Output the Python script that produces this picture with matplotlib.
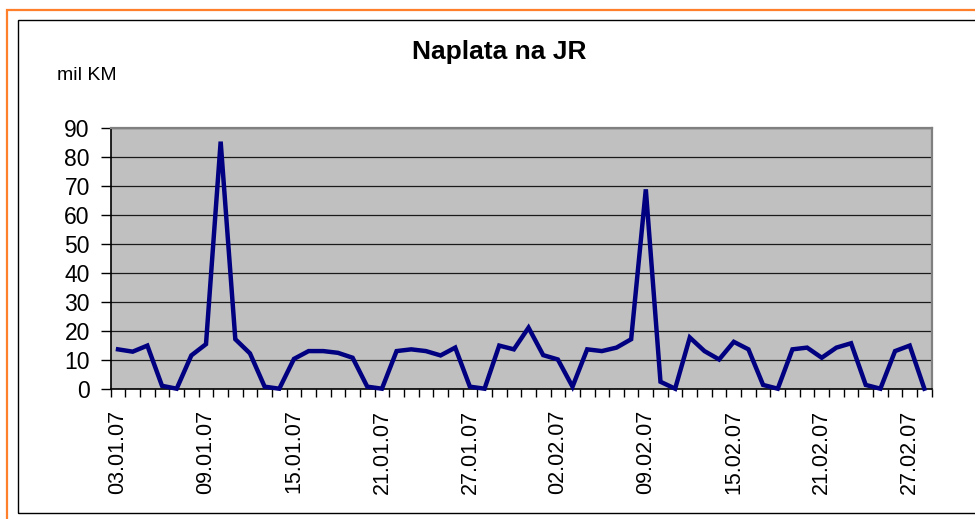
import matplotlib
matplotlib.use("Agg")
import matplotlib.pyplot as plt
from matplotlib.patches import Rectangle
from matplotlib.ticker import FixedLocator

plt.rcParams['font.family'] = ['Liberation Sans', 'DejaVu Sans']

dates = ["03.01.07", "04.01.07", "05.01.07", "06.01.07", "07.01.07", "08.01.07",
         "09.01.07", "10.01.07", "11.01.07", "12.01.07", "13.01.07", "14.01.07",
         "15.01.07", "16.01.07", "17.01.07", "18.01.07", "19.01.07", "20.01.07",
         "21.01.07", "22.01.07", "23.01.07", "24.01.07", "25.01.07", "26.01.07",
         "27.01.07", "28.01.07", "29.01.07", "30.01.07", "31.01.07", "01.02.07",
         "02.02.07", "03.02.07", "05.02.07", "06.02.07", "07.02.07", "08.02.07",
         "09.02.07", "10.02.07", "11.02.07", "12.02.07", "13.02.07", "14.02.07",
         "15.02.07", "16.02.07", "17.02.07", "18.02.07", "19.02.07", "20.02.07",
         "21.02.07", "22.02.07", "23.02.07", "24.02.07", "25.02.07", "26.02.07",
         "27.02.07", "28.02.07"]

values = [13.6, 12.8, 14.9, 1.0, 0.0, 11.5, 15.4, 85.4, 17.1, 12.2,
          0.7, 0.0, 10.3, 13.0, 13.0, 12.4, 10.7, 0.7, 0.0, 13.0,
          13.6, 13.0, 11.5, 14.2, 0.7, 0.0, 14.9, 13.6, 21.1, 11.6,
          10.1, 0.7, 13.6, 13.0, 14.2, 17.1, 68.9, 2.4, 0.0, 17.7,
          13.0, 10.1, 16.2, 13.6, 1.3, 0.0, 13.6, 14.2, 10.7, 14.2,
          15.7, 1.3, 0.0, 13.0, 14.9, 0.0]

y_ticks = [0, 10, 20, 30, 40, 50, 60, 70, 80, 90]
label_step = 6

title = "Naplata na JR"
unit_label = "mil KM"

W, H = 975, 519
fig = plt.figure(figsize=(W / 100, H / 100), dpi=100)
fig.patch.set_facecolor('white')

# outer borders
fig.patches.append(Rectangle((6.5 / W, -0.1), 1.2, 1 - 9.5 / H + 0.1,
                             transform=fig.transFigure, fill=False,
                             edgecolor='#FF7F2A', linewidth=1.6))
fig.patches.append(Rectangle((18.3 / W, 1 - 512.7 / H), 1.2, (512.7 - 20.3) / H,
                             transform=fig.transFigure, fill=False,
                             edgecolor='black', linewidth=1.0))

left, right = 110.7 / W, 931.7 / W
bottom, top = 1 - 388.7 / H, 1 - 128.3 / H
ax = fig.add_axes([left, bottom, right - left, top - bottom])
ax.set_facecolor('#C0C0C0')

x = list(range(len(values)))
ax.plot(x, values, color='#000080', linewidth=3.2, zorder=3,
        solid_joinstyle='miter', clip_on=False)

ax.set_xlim(-0.5, len(values) - 0.5)
ax.set_ylim(0, 90)

ax.set_yticks(y_ticks)
ax.set_yticklabels([str(v) for v in y_ticks], fontsize=16.5)
ax.yaxis.grid(True, color='#1a1a1a', linewidth=0.9, zorder=1)
ax.set_axisbelow(True)

major_pos = list(range(0, len(values), label_step))
ax.set_xticks(major_pos)
ax.set_xticklabels([dates[i] for i in major_pos], rotation=90, fontsize=15.5)
ax.xaxis.set_minor_locator(FixedLocator([i - 0.5 for i in range(len(values) + 1)]))
ax.tick_params(axis='x', which='major', length=0, pad=15)
ax.tick_params(axis='x', which='minor', length=5.5, width=1, color='black')
ax.tick_params(axis='y', which='major', length=7, width=1, color='black', pad=8)

for s in ['left', 'bottom']:
    ax.spines[s].set_color('black')
    ax.spines[s].set_linewidth(1.2)
for s in ['top', 'right']:
    ax.spines[s].set_color('#808080')
    ax.spines[s].set_linewidth(1.6)

fig.text(499 / W, 1 - 51.5 / H, title, fontsize=19, fontweight='bold',
         ha='center', va='center')
fig.text(57 / W, 1 - 80 / H, unit_label, fontsize=14, ha='left', va='baseline')

fig.savefig('out.png', dpi=100)
